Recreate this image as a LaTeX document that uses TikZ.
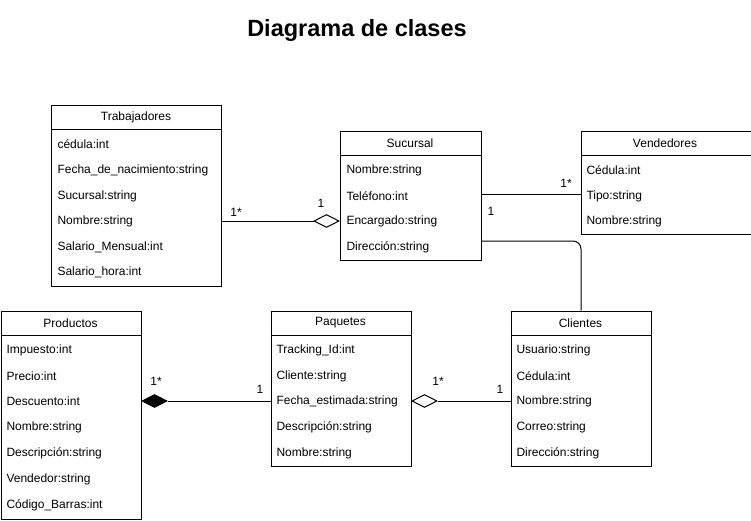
\documentclass[tikz,border=0pt]{standalone}
\usepackage{fontspec}
\setmainfont{Liberation Sans}
\usetikzlibrary{shapes.geometric}
\tikzset{
  classbox/.style={draw, anchor=north west, inner sep=0pt, line width=1pt},
  attr/.style={anchor=west, inner sep=0pt},
  ctitle/.style={anchor=center, inner sep=0pt},
  mult/.style={inner sep=0pt},
  odiamond/.style={draw, fill=white, diamond, minimum width=25pt, minimum height=13pt, inner sep=0pt, line width=1pt, shape aspect=1.9},
  fdiamond/.style={odiamond, fill=black},
  conn/.style={line width=1pt},
}
\begin{document}
\begin{tikzpicture}[x=1pt,y=-1pt, font=\fontsize{12}{14}\selectfont, line width=1pt]
\useasboundingbox (0,0) rectangle (751,521);

\node[font=\fontsize{23.5}{28}\selectfont\bfseries] (title) at (357,30) {Diagrama de clases};

% Trabajadores
\node[classbox, minimum width=170pt, minimum height=181pt] (trab) at (51,105) {};
\draw ([yshift=-25pt]trab.north west) -- ([yshift=-25pt]trab.north east);
\node[ctitle] (trabT) at (136,117.5) {Trabajadores};
\node[attr] (trab1) at (57,144.5) {cédula:int};
\node[attr] (trab2) at (57,170.5) {Fecha\_de\_nacimiento:string};
\node[attr] (trab3) at (57,196.5) {Sucursal:string};
\node[attr] (trab4) at (57,221.5) {Nombre:string};
\node[attr] (trab5) at (57,247.5) {Salario\_Mensual:int};
\node[attr] (trab6) at (57,272.5) {Salario\_hora:int};

% Sucursal
\node[classbox, minimum width=141pt, minimum height=129pt] (suc) at (339.5,131) {};
\draw ([yshift=-25pt]suc.north west) -- ([yshift=-25pt]suc.north east);
\node[ctitle] (sucT) at (410,143.5) {Sucursal};
\node[attr] (suc1) at (346,170.5) {Nombre:string};
\node[attr] (suc2) at (346,196.5) {Teléfono:int};
\node[attr] (suc3) at (346,221.5) {Encargado:string};
\node[attr] (suc4) at (346,247.5) {Dirección:string};

% Vendedores
\node[classbox, minimum width=170pt, minimum height=103pt] (ven) at (580.5,131) {};
\draw ([yshift=-25pt]ven.north west) -- ([yshift=-25pt]ven.north east);
\node[ctitle] (venT) at (665,143.5) {Vendedores};
\node[attr] (ven1) at (586,170.5) {Cédula:int};
\node[attr] (ven2) at (586,196.5) {Tipo:string};
\node[attr] (ven3) at (586,221.5) {Nombre:string};

% Productos
\node[classbox, minimum width=140pt, minimum height=208pt] (prod) at (0.5,310.5) {};
\draw ([yshift=-25pt]prod.north west) -- ([yshift=-25pt]prod.north east);
\node[ctitle] (prodT) at (70.5,323) {Productos};
\node[attr] (prod1) at (6,350.5) {Impuesto:int};
\node[attr] (prod2) at (6,376.5) {Precio:int};
\node[attr] (prod3) at (6,401.5) {Descuento:int};
\node[attr] (prod4) at (6,427.5) {Nombre:string};
\node[attr] (prod5) at (6,453.5) {Descripción:string};
\node[attr] (prod6) at (6,479.5) {Vendedor:string};
\node[attr] (prod7) at (6,505.5) {Código\_Barras:int};

% Paquetes
\node[classbox, minimum width=140pt, minimum height=155pt] (paq) at (270.5,310.5) {};
\draw ([yshift=-25pt]paq.north west) -- ([yshift=-25pt]paq.north east);
\node[ctitle] (paqT) at (340.5,323) {Paquetes};
\node[attr] (paq1) at (276,350.5) {Tracking\_Id:int};
\node[attr] (paq2) at (276,376.5) {Cliente:string};
\node[attr] (paq3) at (276,401.5) {Fecha\_estimada:string};
\node[attr] (paq4) at (276,427.5) {Descripción:string};
\node[attr] (paq5) at (276,453.5) {Nombre:string};

% Clientes
\node[classbox, minimum width=140pt, minimum height=155pt] (cli) at (510.5,310.5) {};
\draw ([yshift=-25pt]cli.north west) -- ([yshift=-25pt]cli.north east);
\node[ctitle] (cliT) at (580.5,323) {Clientes};
\node[attr] (cli1) at (516,350.5) {Usuario:string};
\node[attr] (cli2) at (516,376.5) {Cédula:int};
\node[attr] (cli3) at (516,401.5) {Nombre:string};
\node[attr] (cli4) at (516,427.5) {Correo:string};
\node[attr] (cli5) at (516,453.5) {Dirección:string};

% Trabajadores -- Sucursal (aggregation)
\coordinate (c1) at (0,221);
\node[odiamond, anchor=east] (d1) at (suc.west |- c1) {};
\draw[conn] (trab.east |- d1) -- (d1.west);
\node[mult] (m1a) at (236,212) {1*};
\node[mult] (m1b) at (321,203) {1};

% Sucursal -- Vendedores
\coordinate (c2) at (0,195);
\draw[conn] (suc.east |- c2) -- (ven.west |- c2);
\node[mult] (m2a) at (566,183) {1*};
\node[mult] (m2b) at (491,211) {1};

% Sucursal -- Clientes
\coordinate (c3) at (0,241);
\draw[conn, rounded corners=8pt] (suc.east |- c3) -- (cli.north |- c3) -- (cli.north);

% Productos -- Paquetes (composition)
\coordinate (c4) at (0,401);
\node[fdiamond, anchor=west] (d4) at (prod.east |- c4) {};
\draw[conn] (d4.east) -- (paq.west |- d4);
\node[mult] (m4a) at (156,381) {1*};
\node[mult] (m4b) at (260,389) {1};

% Paquetes -- Clientes (aggregation)
\node[odiamond, anchor=west] (d5) at (paq.east |- c4) {};
\draw[conn] (d5.east) -- (cli.west |- d5);
\node[mult] (m5a) at (438,381) {1*};
\node[mult] (m5b) at (500,389) {1};
\end{tikzpicture}
\end{document}
